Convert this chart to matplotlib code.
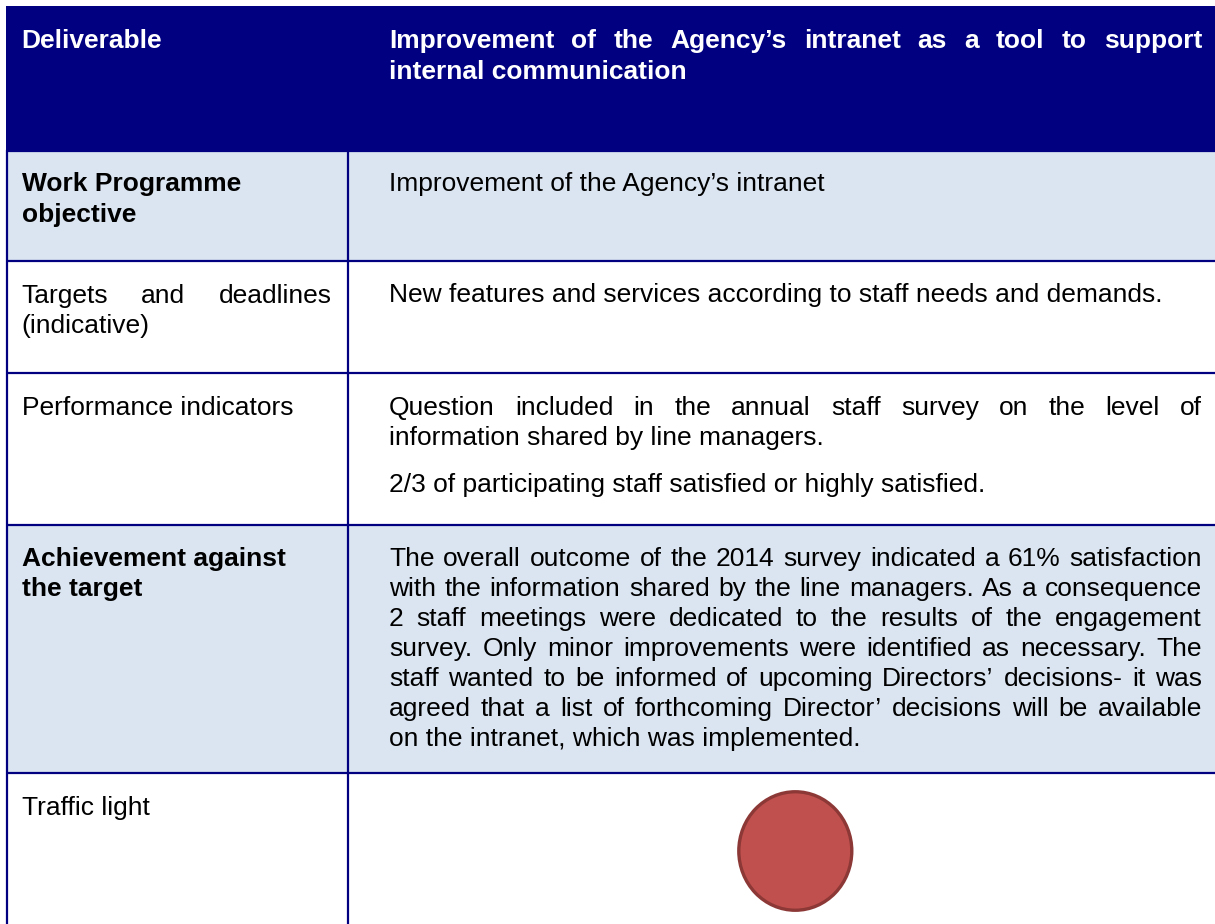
import math
import matplotlib.pyplot as plt
from matplotlib.patches import Rectangle, Ellipse

# table content
header_left = ['Deliverable']
header_right = ['Improvement of the Agency\u2019s  intranet as a tool to support',
                'internal communication']
row_labels = [['Work Programme', 'objective'],
              ['Targets and deadlines', '(indicative)'],
              ['Performance indicators'],
              ['Achievement against', 'the target'],
              ['Traffic light']]
label_bold = [True, False, False, True, False]
row_text = [['Improvement of the Agency\u2019s intranet'],
            ['New features and services according to staff needs and demands.'],
            ['Question included in the annual staff survey on the level of',
             'information shared by line managers.',
             '2/3 of participating staff satisfied or highly satisfied.'],
            ['The overall outcome of the 2014 survey indicated a 61% satisfaction',
             'with the information shared by the line managers. As a consequence',
             '2 staff meetings were dedicated to the results of the engagement',
             'survey. Only minor improvements were identified as necessary. The',
             'staff wanted to be informed of upcoming Directors\u2019 decisions- it was',
             'agreed that a list of forthcoming Director\u2019 decisions will be available',
             'on the intranet, which was implemented.'],
            []]
traffic_light = 'red'

# layout (pixels)
W, H = 1215, 924
row_edges = [150.5, 260.5, 372.5, 524.5, 772.5, H]
shaded = [True, False, False, True, False]
label_base = [[191, 222], [303, 333], [415], [566, 596], [815]]
text_base = [[191], [302], [415, 445, 492],
             [566, 596, 626, 656, 686, 716, 746], []]
label_just = [[], [0], [], [], []]
text_just = [[], [], [0], [0, 1, 2, 3, 4, 5], []]

navy = '#000080'
light = '#DBE5F1'
X_LEFT, X_DIV, X_TXT1, X_TXT2, X_END = 7, 347.5, 21.7, 389, 1202

plt.rcParams['font.family'] = ['Liberation Sans', 'DejaVu Sans']
fs = 19

fig = plt.figure(figsize=(12.15, 9.24), dpi=100)
ax = fig.add_axes([0, 0, 1, 1])
ax.set_xlim(0, W)
ax.set_ylim(H, 0)
ax.axis('off')
renderer = fig.canvas.get_renderer()


def put_line(x0, y, s, x1=None, **kw):
    # keep baselines just under a half pixel so glyph rows land alike
    y = math.floor(y) + 0.49
    if x1 is None:
        ax.text(x0, y, s, va='baseline', fontsize=fs, **kw)
        return
    # justified line: one text per word, gaps spread evenly
    words = s.split()
    ts = [ax.text(0, y, w, va='baseline', fontsize=fs, **kw) for w in words]
    ws = [t.get_window_extent(renderer).width for t in ts]
    gap = (x1 - x0 - sum(ws)) / (len(words) - 1)
    x = x0
    for t, w in zip(ts, ws):
        t.set_x(x)
        x += w + gap


# header
ax.add_patch(Rectangle((6, 6), W - 6, row_edges[0] - 6, color=navy, lw=0))
put_line(X_TXT1, 48, header_left[0], color='white', fontweight='bold')
put_line(X_TXT2, 48, header_right[0], X_END, color='white', fontweight='bold')
put_line(X_TXT2, 79, header_right[1], color='white', fontweight='bold')

# body rows
for i in range(len(row_labels)):
    y0, y1 = row_edges[i], row_edges[i + 1]
    if shaded[i]:
        ax.add_patch(Rectangle((X_LEFT, y0), W - X_LEFT, y1 - y0, color=light, lw=0))
    wt = 'bold' if label_bold[i] else 'normal'
    for j, s in enumerate(row_labels[i]):
        x1 = X_DIV - 16 if j in label_just[i] else None
        put_line(X_TXT1, label_base[i][j], s, x1, color='black', fontweight=wt)
    for j, s in enumerate(row_text[i]):
        x1 = X_END if j in text_just[i] else None
        put_line(X_TXT2, text_base[i][j], s, x1, color='black')

# grid lines
for y in row_edges[:-1]:
    ax.plot([6, W], [y, y], color=navy, lw=1.6, solid_capstyle='butt')
ax.plot([X_LEFT, X_LEFT], [row_edges[0], H], color=navy, lw=1.6)
ax.plot([X_DIV, X_DIV], [row_edges[0], H], color=navy, lw=1.6)

# traffic light
colors = {'red': ('#C0504D', '#8C3836')}
fc, ec = colors[traffic_light]
ax.add_patch(Ellipse((795.3, 851), 113, 118.5, fc=fc, ec=ec, lw=2.4))

fig.savefig('out.png', dpi=100)
